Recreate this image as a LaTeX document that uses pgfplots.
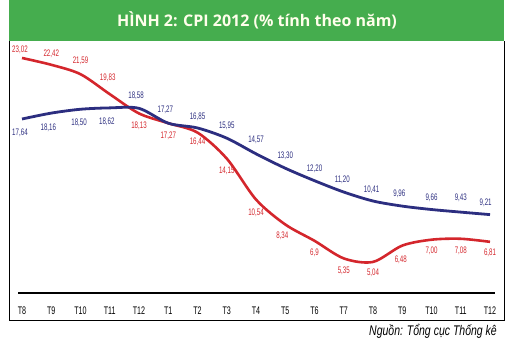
\documentclass[border=0pt]{standalone}
\usepackage{fontspec}
\setmainfont{Liberation Sans}
\newfontfamily\cond[FakeStretch=0.65]{Liberation Sans}
\newfontfamily\condit[FakeStretch=0.75]{Liberation Sans Italic}
\newfontfamily\titlefont{Open Sans}
\usepackage{pgfplots}
\pgfplotsset{compat=1.18}
\definecolor{cpired}{RGB}{212,38,44}
\definecolor{cpiblue}{RGB}{44,46,128}
\definecolor{titlegreen}{RGB}{69,173,78}
\newcommand{\lab}[5]{\node[text=#1,inner sep=0pt,font=\cond\fontsize{9.5}{10}\selectfont] at (axis cs:#2,#3) [yshift=#4pt] {#5};}
\begin{document}
\begin{tikzpicture}[x=1pt,y=1pt]
\path[use as bounding box] (0,0) rectangle (506,350);
\fill[titlegreen] (9,309) rectangle (504,350);
\draw[black, line width=0.8pt] (9,309)--(9,30)--(504,30)--(504,309);
\node[text=white!92!yellow] at (257,330) {\titlefont\bfseries\fontsize{16}{18}\selectfont HÌNH 2: CPI 2012 (\% tính theo năm)};
\node[anchor=east,inner sep=0pt] at (497,19) {\condit\fontsize{14}{16}\selectfont Nguồn: Tổng cục Thống kê};
\begin{axis}[at={(18pt,57pt)}, anchor=south west, scale only axis,
  width=477pt, height=251.8pt,
  xmin=-0.137, xmax=16.17, ymin=2.3, ymax=24.5,
  axis y line=none, axis x line*=bottom,
  x axis line style={line width=2.2pt,-},
  xtick={0,...,16},
  xticklabels={T8,T9,T10,T11,T12,T1,T2,T3,T4,T5,T6,T7,T8,T9,T10,T11,T12},
  major tick length=0pt,
  xticklabel style={anchor=center,yshift=-18pt,font=\cond\fontsize{11}{12}\selectfont},
  clip=false]
\addplot[cpired, line width=2.6pt, smooth, no marks] coordinates {
(0,23.02)(1,22.42)(2,21.59)(3,19.83)(4,18.13)(5,17.27)(6,16.44)(7,14.15)(8,10.54)(9,8.34)(10,6.9)(11,5.35)(12,5.04)(13,6.48)(14,7.00)(15,7.08)(16,6.81)};
\addplot[cpiblue, line width=2.8pt, smooth, no marks] coordinates {
(0,17.64)(1,18.16)(2,18.50)(3,18.62)(4,18.58)(5,17.27)(6,16.85)(7,15.95)(8,14.57)(9,13.30)(10,12.20)(11,11.20)(12,10.41)(13,9.96)(14,9.66)(15,9.43)(16,9.21)};
% red labels
\lab{cpired}{-0.07}{23.02}{8}{23,02}
\lab{cpired}{1}{22.42}{11}{22,42}
\lab{cpired}{2}{21.59}{13}{21,59}
\lab{cpired}{2.93}{19.83}{16}{19,83}
\lab{cpired}{4}{18.13}{-12.5}{18,13}
\lab{cpired}{5}{17.27}{-13}{17,27}
\lab{cpired}{6}{16.44}{-9.5}{16,44}
\lab{cpired}{7}{14.15}{-12.5}{14,15}
\lab{cpired}{8}{10.54}{-13.5}{10,54}
\lab{cpired}{8.9}{8.34}{-11.5}{8,34}
\lab{cpired}{10}{6.9}{-12}{6,9}
\lab{cpired}{11}{5.35}{-12}{5,35}
\lab{cpired}{12}{5.04}{-11}{5,04}
\lab{cpired}{12.95}{6.48}{-14.5}{6,48}
\lab{cpired}{14}{7.00}{-11.3}{7,00}
\lab{cpired}{15}{7.08}{-12.2}{7,08}
\lab{cpired}{16}{6.81}{-11.2}{6,81}
% blue labels
\lab{cpiblue}{-0.07}{17.64}{-14}{17,64}
\lab{cpiblue}{0.9}{18.16}{-15}{18,16}
\lab{cpiblue}{1.95}{18.50}{-13.7}{18,50}
\lab{cpiblue}{2.9}{18.62}{-14}{18,62}
\lab{cpiblue}{3.9}{18.58}{12.4}{18,58}
\lab{cpiblue}{4.9}{17.27}{13}{17,27}
\lab{cpiblue}{6}{16.85}{10.8}{16,85}
\lab{cpiblue}{7}{15.95}{12}{15,95}
\lab{cpiblue}{8}{14.57}{13.6}{14,57}
\lab{cpiblue}{9}{13.30}{12}{13,30}
\lab{cpiblue}{10}{12.20}{12.3}{12,20}
\lab{cpiblue}{10.95}{11.20}{12.6}{11,20}
\lab{cpiblue}{11.95}{10.41}{11.6}{10,41}
\lab{cpiblue}{12.9}{9.96}{12.7}{9,96}
\lab{cpiblue}{14}{9.66}{12}{9,66}
\lab{cpiblue}{15}{9.43}{14.7}{9,43}
\lab{cpiblue}{15.85}{9.21}{12}{9,21}
\end{axis}
\end{tikzpicture}
\end{document}
